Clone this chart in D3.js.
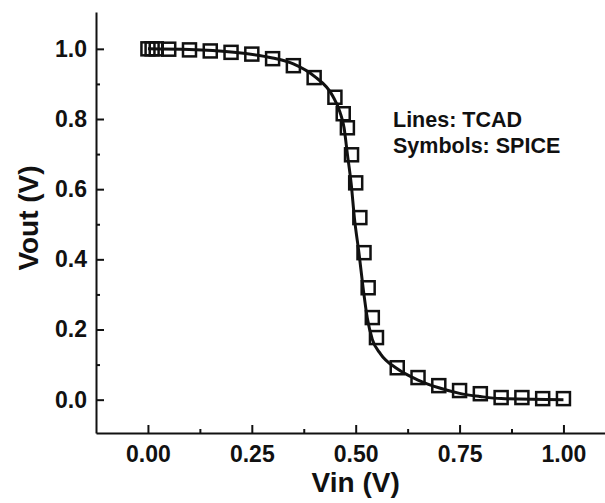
<!DOCTYPE html>
<html>
<head>
<meta charset="utf-8">
<script src="https://cdn.jsdelivr.net/npm/d3@7"></script>
<style>
  body { margin: 0; background: #fff; }
  svg text { font-family: "Liberation Sans", Arial, sans-serif; font-weight: bold; fill: #111; }
</style>
</head>
<body>
<div id="chart"></div>
<script>
// TCAD curve (solid line)
const tcadVin = [0, 0.1, 0.2, 0.3, 0.35, 0.4, 0.445, 0.462, 0.472, 0.48, 0.489, 0.497, 0.508, 0.518, 0.528, 0.54, 0.56, 0.6, 0.65, 0.7, 0.75, 0.8, 0.85, 1.0];
const tcadVout = [1.0, 0.998, 0.991, 0.974, 0.957, 0.922, 0.865, 0.82, 0.775, 0.7, 0.617, 0.517, 0.417, 0.317, 0.232, 0.172, 0.13, 0.088, 0.056, 0.034, 0.018, 0.009, 0.003, 0];

// SPICE points (open squares)
const spiceVin = [0, 0.01, 0.02, 0.05, 0.1, 0.15, 0.2, 0.25, 0.3, 0.35, 0.4, 0.45, 0.47, 0.48, 0.49, 0.5, 0.51, 0.52, 0.53, 0.54, 0.55, 0.6, 0.65, 0.7, 0.75, 0.8, 0.85, 0.9, 0.95, 1.0];
const spiceVout = [1.0, 1.0, 1.0, 0.999, 0.997, 0.994, 0.99, 0.985, 0.972, 0.952, 0.918, 0.862, 0.815, 0.775, 0.698, 0.618, 0.519, 0.419, 0.319, 0.234, 0.177, 0.091, 0.063, 0.04, 0.026, 0.017, 0.006, 0.006, 0.003, 0.003];

const xTicks = [0, 0.25, 0.5, 0.75, 1.0];
const xMinor = [0.125, 0.375, 0.625, 0.875];
const yTicks = [0, 0.2, 0.4, 0.6, 0.8, 1.0];
const yMinor = [0.1, 0.3, 0.5, 0.7, 0.9];
const legendLines = ['Lines: TCAD', 'Symbols: SPICE'];

const width = 605;
const height = 503;

const x = d3.scaleLinear([-0.125, 1.1], [96, 605]);
const y = d3.scaleLinear([-0.095, 1.105], [433, 12]);

const svg = d3
  .select('#chart')
  .append('svg')
  .attr('width', width)
  .attr('height', height);

// minor ticks first so the major axis draws on top
svg
  .append('g')
  .attr('transform', `translate(0, ${y.range()[0]})`)
  .call(d3.axisBottom(x).tickValues(xMinor).tickSize(-4).tickSizeOuter(0).tickFormat(''))
  .call((g) => g.select('.domain').remove())
  .call((g) => g.selectAll('.tick line').attr('stroke-width', 2).attr('stroke', '#111'));

svg
  .append('g')
  .attr('transform', `translate(${x.range()[0]}, 0)`)
  .call(d3.axisLeft(y).tickValues(yMinor).tickSize(-4).tickSizeOuter(0).tickFormat(''))
  .call((g) => g.select('.domain').remove())
  .call((g) => g.selectAll('.tick line').attr('stroke-width', 2).attr('stroke', '#111'));

const xAxis = svg
  .append('g')
  .attr('transform', `translate(0, ${y.range()[0]})`)
  .call(
    d3
      .axisBottom(x)
      .tickValues(xTicks)
      .tickSize(-8)
      .tickSizeOuter(0)
      .tickPadding(13)
      .tickFormat(d3.format('.2f'))
  );
xAxis.select('.domain').attr('stroke-width', 2).attr('stroke', '#111');
xAxis.selectAll('.tick line').attr('stroke-width', 2).attr('stroke', '#111');
xAxis.selectAll('text').style('font-size', '23px');

const yAxis = svg
  .append('g')
  .attr('transform', `translate(${x.range()[0]}, 0)`)
  .call(
    d3
      .axisLeft(y)
      .tickValues(yTicks)
      .tickSize(-8)
      .tickSizeOuter(0)
      .tickPadding(9)
      .tickFormat(d3.format('.1f'))
  );
yAxis.select('.domain').attr('stroke-width', 2).attr('stroke', '#111');
yAxis.selectAll('.tick line').attr('stroke-width', 2).attr('stroke', '#111');
yAxis.selectAll('text').style('font-size', '23px');

// axis titles
svg
  .append('text')
  .attr('x', x(0.5))
  .attr('y', 492)
  .attr('text-anchor', 'middle')
  .style('font-size', '28px')
  .text('Vin (V)');

svg
  .append('text')
  .attr('transform', 'translate(38, 218) rotate(-90)')
  .attr('text-anchor', 'middle')
  .style('font-size', '28px')
  .text('Vout (V)');

// TCAD line
const line = d3
  .line()
  .curve(d3.curveMonotoneX)
  .x((d) => x(d[0]))
  .y((d) => y(d[1]));

svg
  .append('path')
  .datum(tcadVin.map((v, i) => [v, tcadVout[i]]))
  .attr('fill', 'none')
  .attr('stroke', '#111')
  .attr('stroke-width', 3)
  .attr('d', line);

// SPICE squares
const sq = 13;
svg
  .selectAll('.pt')
  .data(spiceVin.map((v, i) => [v, spiceVout[i]]))
  .enter()
  .append('rect')
  .attr('class', 'pt')
  .attr('x', (d) => x(d[0]) - sq / 2)
  .attr('y', (d) => y(d[1]) - sq / 2)
  .attr('width', sq)
  .attr('height', sq)
  .attr('fill', 'none')
  .attr('stroke', '#111')
  .attr('stroke-width', 2.5);

// legend text
svg
  .selectAll('.legend')
  .data(legendLines)
  .enter()
  .append('text')
  .attr('class', 'legend')
  .attr('x', 393)
  .attr('y', (d, i) => 127 + i * 26)
  .style('font-size', '21.5px')
  .text((d) => d);
</script>
</body>
</html>
